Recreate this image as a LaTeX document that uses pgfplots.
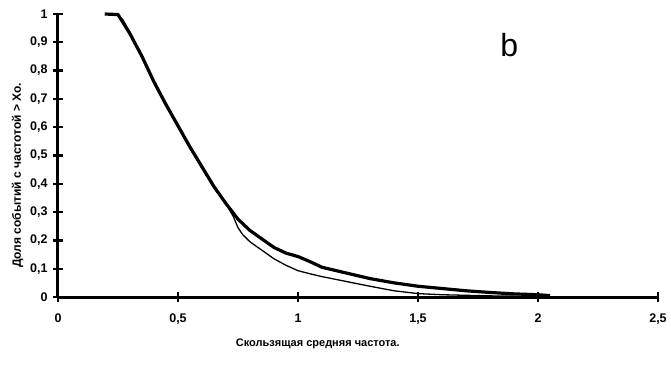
\documentclass[border=0pt]{standalone}
\usepackage{fontspec}
\setmainfont{Liberation Sans}
\usepackage{pgfplots}
\pgfplotsset{compat=1.18}
\begin{document}
\begin{tikzpicture}
\begin{axis}[
  scale only axis, width=600pt, height=283pt,
  xmin=0, xmax=2.5, ymin=0, ymax=1,
  axis lines=left,
  axis line style={line width=3pt, -},
  clip=false,
  xtick={0,0.5,1,1.5,2,2.5},
  xticklabels={0,{0,5},1,{1,5},2,{2,5}},
  ytick={0,0.1,0.2,0.3,0.4,0.5,0.6,0.7,0.8,0.9,1},
  yticklabels={0,{0,1},{0,2},{0,3},{0,4},{0,5},{0,6},{0,7},{0,8},{0,9},1},
  tick align=center,
  major tick length=10pt,
  xtick style={line width=2.4pt, black},
  ytick style={line width=2.4pt, black},
  ticklabel style={font=\bfseries\fontsize{12.5}{14}\selectfont},
  xticklabel style={yshift=-8pt},
  yticklabel style={xshift=-2pt},
  xlabel={Скользящая средняя частота.},
  ylabel={Доля событий с частотой > Xo.},
  xlabel style={font=\bfseries\fontsize{11}{12}\selectfont, at={(ticklabel cs:0.433)}, yshift=-8pt},
  ylabel style={font=\bfseries\fontsize{12}{13}\selectfont, at={(ticklabel cs:0.43)}},
]
\addplot[black, line width=1.3pt] coordinates {
(0.195,1.0) (0.25,0.995) (0.27,0.98) (0.3,0.935) (0.35,0.845) (0.4,0.755)
(0.45,0.675) (0.5,0.60) (0.55,0.525) (0.6,0.455) (0.65,0.385) (0.7,0.33)
(0.73,0.285) (0.75,0.245) (0.77,0.22) (0.8,0.195) (0.85,0.165) (0.9,0.135)
(0.95,0.112) (1.0,0.093) (1.05,0.082) (1.1,0.072) (1.2,0.055) (1.3,0.038)
(1.4,0.022) (1.5,0.012) (1.6,0.008) (1.7,0.006) (1.8,0.004) (1.9,0.003) (2.0,0.002)
};
\addplot[black, line width=3.2pt] coordinates {
(0.195,1.0) (0.25,0.998) (0.3,0.93) (0.35,0.85) (0.4,0.76)
(0.45,0.68) (0.5,0.605) (0.55,0.53) (0.6,0.46) (0.65,0.39) (0.7,0.33)
(0.75,0.275) (0.8,0.235) (0.85,0.205) (0.9,0.175) (0.95,0.155) (1.0,0.143)
(1.05,0.125) (1.1,0.105) (1.2,0.085) (1.3,0.065) (1.4,0.05) (1.5,0.038)
(1.6,0.03) (1.7,0.022) (1.8,0.016) (1.9,0.011) (2.0,0.008) (2.05,0.005)
};
\node[font=\fontsize{32}{34}\selectfont] at (axis cs:1.88,0.89) {b};
\path ([xshift=-58pt,yshift=-78pt]rel axis cs:0,0) rectangle ([xshift=13pt,yshift=14pt]rel axis cs:1,1);
\end{axis}
\end{tikzpicture}
\end{document}
